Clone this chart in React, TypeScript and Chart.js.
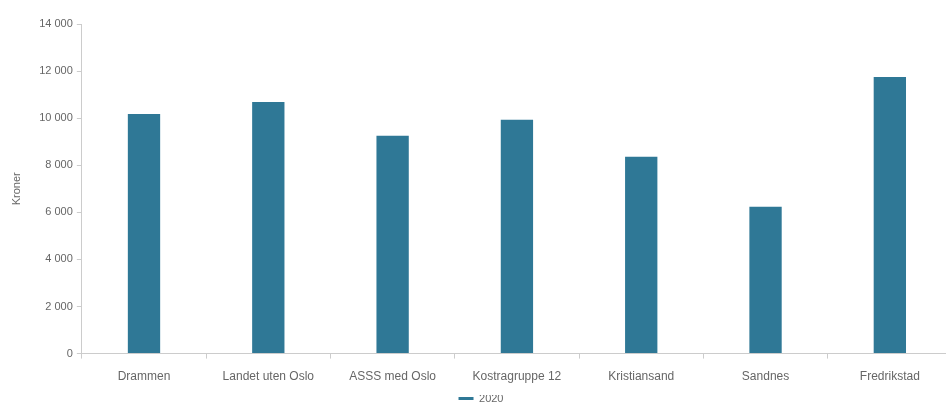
import React, { useEffect, useRef } from "react";
import { Chart, registerables } from "chart.js";

Chart.register(...registerables);

const categories = [
  "Drammen",
  "Landet uten Oslo",
  "ASSS med Oslo",
  "Kostragruppe 12",
  "Kristiansand",
  "Sandnes",
  "Fredrikstad",
];
const values2020 = [10180, 10690, 9250, 9930, 8360, 6240, 11750];
const seriesLabel = "2020";
const yTitle = "Kroner";

const FONT = "Arial, 'Liberation Sans', sans-serif";

export default function App() {
  const ref = useRef<HTMLCanvasElement>(null);
  useEffect(() => {
    if (!ref.current) return;
    const chart = new Chart(ref.current, {
      type: "bar",
      data: {
        labels: categories,
        datasets: [
          {
            label: seriesLabel,
            data: values2020,
            backgroundColor: "#2f7896",
            borderWidth: 0,
            barPercentage: 0.26,
            categoryPercentage: 1,
          },
        ],
      },
      options: {
        animation: false,
        responsive: false,
        maintainAspectRatio: false,
        layout: { padding: { top: 24, right: 0, left: 10, bottom: 0 } },
        plugins: {
          title: { display: false },
          tooltip: { enabled: false },
          legend: {
            position: "bottom",
            labels: {
              boxWidth: 15,
              boxHeight: 3,
              color: "#666",
              font: { family: FONT, size: 11 },
              padding: -2,
            },
          },
        },
        scales: {
          x: {
            border: { color: "#ccc" },
            grid: { drawOnChartArea: false, tickLength: 5, color: "#ccc", offset: true },
            ticks: {
              color: "#666",
              font: { family: FONT, size: 12 },
              maxRotation: 0,
              padding: 11,
            },
          },
          y: {
            min: 0,
            max: 14000,
            border: { color: "#ccc" },
            grid: { drawOnChartArea: false, tickLength: 5, color: "#ccc" },
            ticks: {
              stepSize: 2000,
              color: "#666",
              font: { family: FONT, size: 11 },
              padding: 4,
              callback: (v: any) =>
                String(v).replace(/\B(?=(\d{3})+(?!\d))/g, " "),
            },
            title: {
              display: true,
              text: yTitle,
              color: "#666",
              font: { family: FONT, size: 11 },
              padding: { top: 0, bottom: 12 },
            },
          },
        },
      },
    });
    return () => chart.destroy();
  }, []);
  return (
    <div
      style={{
        position: "fixed",
        left: 0,
        top: 0,
        width: 946,
        height: 403,
        overflow: "hidden",
        background: "#fff",
      }}
    >
      <canvas ref={ref} width={952} height={414} style={{ width: 952, height: 414 }} />
    </div>
  );
}
